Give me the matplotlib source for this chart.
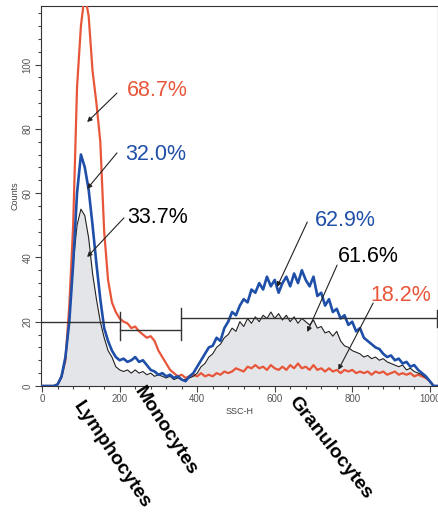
import numpy as np
import matplotlib.pyplot as plt
from matplotlib.ticker import MultipleLocator

plt.rcParams['font.family'] = ['Liberation Sans', 'DejaVu Sans']

# SSC-H channel (bin centres, step 10)
ssc = np.arange(0, 1030, 10)

red_counts = [0, 0, 0, 0, 0.5, 3, 8, 25, 50, 93,
              112, 122, 115, 98, 88, 76, 48, 33, 26, 23,
              21, 20, 19.5, 18, 18.5, 17, 16, 15, 15.5, 14,
              11, 9, 7, 5, 4, 3, 3.5, 2.5, 3, 3.5,
              3, 4, 3, 3.5, 3, 4, 3.5, 4.5, 4, 4.5,
              5.5, 5, 4.5, 6, 5.5, 6.5, 5.5, 6, 5, 6.5,
              5.5, 5, 6, 5, 6.5, 5.5, 7, 5.5, 6, 5,
              6.5, 5, 5.5, 4.5, 5.5, 4.5, 5, 4, 5, 4.5,
              5, 4, 4.5, 4, 4.5, 3.5, 4.5, 4, 4.5, 3.5,
              4, 4.5, 3.5, 4, 3.5, 4, 3, 3.5, 3, 2.5,
              1.5, 0, 0]

blue_counts = [0, 0, 0, 0, 0.5, 3, 9, 20, 38, 60,
               72, 68, 61, 50, 38, 27, 18, 14, 11, 9,
               8, 8.5, 7.5, 8, 9, 7.5, 8, 6.5, 5, 4.5,
               3.5, 4, 3, 3.5, 2.5, 3, 2, 1.5, 3, 4,
               6, 8, 10, 12, 12.5, 15, 14, 18, 20, 23,
               22, 25, 27, 26, 30, 29, 32, 30, 34, 31,
               33, 29, 32, 34, 31, 35, 32, 36, 33, 31,
               34, 28, 29, 25, 27, 23, 24, 21, 22, 19,
               20, 17, 18, 15, 14, 13, 12, 11.5, 10, 9,
               9.5, 8, 8.5, 7, 7.5, 6, 6.5, 5, 4, 3,
               1.5, 0, 0]

black_counts = [0, 0, 0, 0, 0.5, 2.5, 8, 20, 38, 50,
                55, 53, 46, 35, 27, 20, 15, 11, 9, 6,
                5, 4.5, 5, 4, 5, 4, 4.5, 3.5, 4, 3,
                3.5, 3, 2.5, 3, 2, 2.5, 2, 2, 2.5, 3,
                4, 6, 7, 9, 10, 12, 13, 15, 16, 18,
                17, 20, 18.5, 21, 19.5, 21.5, 20, 22, 21, 23,
                21, 22.5, 20.5, 22, 20, 21.5, 19.5, 21, 20, 19,
                20.5, 18, 18.5, 16.5, 17, 15.5, 17, 14, 12.5, 12,
                11, 10.5, 10, 9, 9.5, 8.5, 9, 8, 8.5, 7.5,
                7, 6.5, 6, 6.5, 5, 5.5, 4.5, 4, 3.5, 2.5,
                1.5, 0, 0]

# gate markers: (start, end, level)
gates = [(-3, 200, 20.0), (200, 357, 17.4), (357, 1020, 21.0)]
gate_ticks = [(200, 14.3, 23.0), (357, 14.3, 24.3), (1019, 18.4, 23.6)]

# percentage labels: text, colour, text pos, arrow tail, arrow head
pct_labels = ['68.7%', '32.0%', '33.7%', '62.9%', '61.6%', '18.2%']
pct_pos = [(298, 92.0), (294, 71.9), (299, 52.3), (782, 51.6), (841, 40.4), (926, 28.0)]
arrow_tail = [(193, 91.1), (193, 72.5), (211, 52.3), (684, 51.0), (761, 37.6), (854, 25.8)]
arrow_head = [(116, 82.1), (116, 61.3), (116, 40.1), (606, 30.8), (684, 16.8), (764, 5.0)]

RED = '#e8563a'
BLUE = '#1f4fa8'
pct_colors = [RED, BLUE, 'black', BLUE, 'black', RED]

fig = plt.figure(figsize=(4.39, 5.13), dpi=100)
ax = fig.add_axes([0.0934, 0.2476, 0.9032, 0.7407])

ax.fill_between(ssc, black_counts, color='#e4e5e9', lw=0)
ax.plot(ssc, red_counts, color=RED, lw=1.6, zorder=3)
ax.plot(ssc, black_counts, color='#222222', lw=0.8, zorder=4)
ax.plot(ssc, blue_counts, color=BLUE, lw=1.9, zorder=5)

for x0, x1, lev in gates:
    ax.plot([x0, x1], [lev, lev], color='#333333', lw=1.0, zorder=6)
for xg, y0, y1 in gate_ticks:
    ax.plot([xg, xg], [y0, y1], color='#333333', lw=1.0, zorder=6)

for txt, c, p, t, h in zip(pct_labels, pct_colors, pct_pos, arrow_tail, arrow_head):
    ax.text(p[0], p[1], txt, color=c, fontsize=15.5, ha='center', va='center', zorder=8)
    ax.annotate('', xy=h, xytext=t,
                arrowprops=dict(arrowstyle='-|>', color='#222222', lw=0.8,
                                mutation_scale=7, shrinkA=0, shrinkB=0), zorder=8)

ax.set_xlim(-3, 1020)
ax.set_ylim(0, 118.2)
ax.xaxis.set_major_locator(MultipleLocator(200))
ax.xaxis.set_minor_locator(MultipleLocator(40))
ax.yaxis.set_major_locator(MultipleLocator(20))
ax.yaxis.set_minor_locator(MultipleLocator(4))
ax.tick_params(which='both', direction='out', colors='#444444', labelsize=7,
               width=0.8, pad=2)
ax.tick_params(which='major', length=4)
ax.tick_params(which='minor', length=2.5)
ax.tick_params(axis='x', labelcolor='#555555')
ax.tick_params(axis='y', labelcolor='#555555')
for lab in ax.get_yticklabels():
    lab.set_rotation(90)
    lab.set_va('center')
for sp in ax.spines.values():
    sp.set_color('#333333')
    sp.set_linewidth(0.8)

ax.set_ylabel('Counts', fontsize=6.5, color='#444444', labelpad=2)
ax.set_xlabel('SSC-H', fontsize=6.5, color='#444444', labelpad=2)

cat_labels = ['Lymphocytes', 'Monocytes', 'Granulocytes']
cat_pos = [(112, 455), (166, 431), (330, 448)]
cat_rot = [-56, -57, -52]
for txt, (px, py), r in zip(cat_labels, cat_pos, cat_rot):
    fig.text(px / 439, 1 - py / 513, txt, fontsize=14, fontweight='bold',
             rotation=r, rotation_mode='anchor', ha='center', va='center')

fig.savefig('out.png', dpi=100)
